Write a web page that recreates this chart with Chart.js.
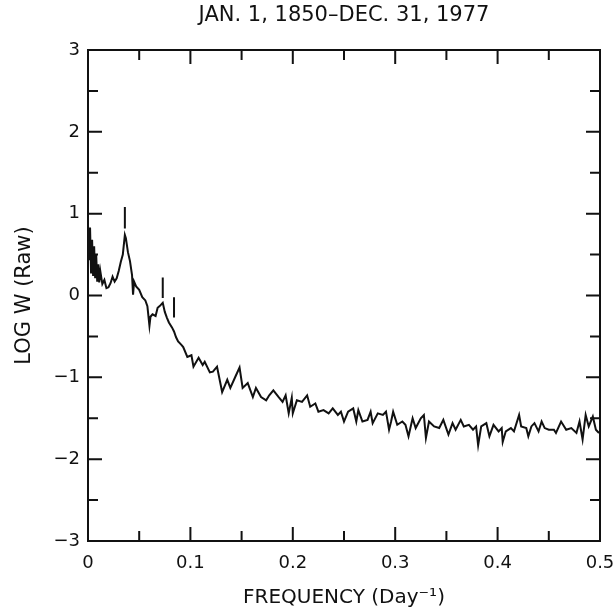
<!DOCTYPE html>
<html>
<head>
<meta charset="utf-8">
<script src="https://cdn.jsdelivr.net/npm/chart.js@4.4.1/dist/chart.umd.min.js"></script>
<style>
  html, body { margin: 0; padding: 0; background: #fff; }
  #wrap { width: 616px; height: 610px; }
</style>
</head>
<body>
<div id="wrap"><canvas id="spectrumChart" width="616" height="610"></canvas></div>
<script>
// frequency (day^-1) and log power
const freq = [0.000, 0.001, 0.002, 0.003, 0.004, 0.005, 0.006, 0.007, 0.008, 0.009,
    0.010, 0.011, 0.012, 0.014, 0.016, 0.018, 0.020, 0.022, 0.024, 0.026,
    0.028, 0.030, 0.032, 0.034, 0.036, 0.037, 0.039, 0.041, 0.043, 0.044,
    0.045, 0.047, 0.050, 0.053, 0.056, 0.058, 0.060, 0.061, 0.063, 0.066,
    0.068, 0.070, 0.073, 0.075, 0.077, 0.079, 0.082, 0.084, 0.086, 0.088,
    0.091, 0.093, 0.097, 0.101, 0.103, 0.108, 0.112, 0.114, 0.119, 0.122,
    0.126, 0.131, 0.136, 0.139, 0.144, 0.148, 0.151, 0.156, 0.161, 0.164,
    0.169, 0.174, 0.177, 0.181, 0.186, 0.190, 0.193, 0.196, 0.199, 0.200,
    0.204, 0.209, 0.214, 0.217, 0.222, 0.225, 0.230, 0.235, 0.239, 0.244,
    0.247, 0.250, 0.254, 0.259, 0.262, 0.264, 0.268, 0.273, 0.276, 0.278,
    0.283, 0.288, 0.291, 0.294, 0.296, 0.298, 0.302, 0.307, 0.310, 0.313,
    0.317, 0.320, 0.325, 0.328, 0.330, 0.333, 0.338, 0.343, 0.347, 0.352,
    0.356, 0.359, 0.364, 0.367, 0.372, 0.376, 0.379, 0.381, 0.384, 0.389,
    0.392, 0.396, 0.401, 0.404, 0.405, 0.408, 0.413, 0.416, 0.421, 0.423,
    0.428, 0.430, 0.433, 0.436, 0.440, 0.443, 0.446, 0.450, 0.455, 0.457,
    0.462, 0.467, 0.472, 0.477, 0.480, 0.483, 0.486, 0.489, 0.493, 0.496,
    0.499];
const logW = [0.86, 0.43, 0.83, 0.27, 0.68, 0.24, 0.60, 0.21, 0.50, 0.17,
    0.38, 0.16, 0.30, 0.14, 0.19, 0.09, 0.10, 0.15, 0.23, 0.17,
    0.21, 0.30, 0.41, 0.50, 0.74, 0.70, 0.53, 0.42, 0.25, 0.01,
    0.17, 0.11, 0.07, -0.02, -0.06, -0.13, -0.37, -0.26, -0.23, -0.25,
    -0.15, -0.13, -0.09, -0.20, -0.27, -0.33, -0.39, -0.44, -0.51, -0.56,
    -0.60, -0.63, -0.75, -0.73, -0.87, -0.76, -0.85, -0.81, -0.94, -0.93,
    -0.87, -1.18, -1.03, -1.13, -0.99, -0.88, -1.13, -1.07, -1.24, -1.13,
    -1.24, -1.28, -1.22, -1.16, -1.24, -1.30, -1.22, -1.44, -1.25, -1.44,
    -1.28, -1.30, -1.22, -1.36, -1.32, -1.42, -1.40, -1.44, -1.38, -1.46,
    -1.42, -1.54, -1.42, -1.38, -1.54, -1.40, -1.54, -1.52, -1.42, -1.56,
    -1.44, -1.46, -1.42, -1.64, -1.54, -1.42, -1.58, -1.54, -1.58, -1.72,
    -1.50, -1.62, -1.50, -1.46, -1.74, -1.54, -1.60, -1.62, -1.52, -1.70,
    -1.56, -1.64, -1.52, -1.60, -1.58, -1.64, -1.60, -1.83, -1.60, -1.56,
    -1.72, -1.58, -1.66, -1.62, -1.79, -1.66, -1.62, -1.66, -1.46, -1.60,
    -1.62, -1.72, -1.60, -1.56, -1.66, -1.54, -1.62, -1.64, -1.64, -1.68,
    -1.54, -1.64, -1.62, -1.68, -1.54, -1.76, -1.46, -1.60, -1.48, -1.64,
    -1.68];

// short vertical marks over the peaks
const markFreq = [0.036, 0.073, 0.084];
const markTop = [1.08, 0.22, -0.02];
const markBottom = [0.82, -0.03, -0.27];

const xTicks = [0, 0.1, 0.2, 0.3, 0.4, 0.5];
const yTicks = [-3, -2, -1, 0, 1, 2, 3];

const spectrumData = freq.map((f, i) => ({ x: f, y: logW[i] }));
const markData = [];
markFreq.forEach((f, i) => {
    markData.push({ x: f, y: markTop[i] });
    markData.push({ x: f, y: markBottom[i] });
    markData.push({ x: f, y: null });
});

const ink = '#111';
const labelFont = { family: 'DejaVu Sans', size: 18 };

// box frame plus inward major/minor ticks on all four sides
const frameTicks = {
    id: 'frameTicks',
    afterDraw(chart) {
        const ctx = chart.ctx;
        const area = chart.chartArea;
        const xs = chart.scales.x, ys = chart.scales.y;
        ctx.save();
        ctx.strokeStyle = ink;
        ctx.lineWidth = 2;
        ctx.strokeRect(area.left, area.top, area.right - area.left, area.bottom - area.top);
        for (let i = 1; i < 10; i++) {
            const px = xs.getPixelForValue(i * 0.05);
            const len = i % 2 === 0 ? 14 : 10;
            ctx.beginPath();
            ctx.moveTo(px, area.bottom); ctx.lineTo(px, area.bottom - len);
            ctx.moveTo(px, area.top); ctx.lineTo(px, area.top + len);
            ctx.stroke();
        }
        for (let i = 1; i < 12; i++) {
            const py = ys.getPixelForValue(-3 + i * 0.5);
            const len = i % 2 === 0 ? 14 : 10;
            ctx.beginPath();
            ctx.moveTo(area.left, py); ctx.lineTo(area.left + len, py);
            ctx.moveTo(area.right, py); ctx.lineTo(area.right - len, py);
            ctx.stroke();
        }
        ctx.restore();
    }
};

// keep tick labels from pushing the plot edges inwards
function fixHorizontal(h) {
    return function (scale) {
        scale.height = h;
        scale.paddingLeft = 0;
        scale.paddingRight = 0;
    };
}

const ctxSpectrum = document.getElementById('spectrumChart').getContext('2d');
const spectrumChart = new Chart(ctxSpectrum, {
    type: 'line',
    data: {
        datasets: [
            {
                label: 'LOG W',
                data: spectrumData,
                borderColor: ink,
                borderWidth: 2,
                pointRadius: 0,
                tension: 0,
                fill: false,
            },
            {
                label: 'marks',
                data: markData,
                borderColor: ink,
                borderWidth: 2,
                pointRadius: 0,
                spanGaps: false,
                fill: false,
            }
        ]
    },
    options: {
        responsive: false,
        animation: false,
        layout: { padding: { left: 0, right: 16, top: 0, bottom: 0 } },
        plugins: {
            legend: { display: false },
            tooltip: { enabled: false }
        },
        scales: {
            x: {
                type: 'linear',
                min: 0,
                max: 0.5,
                afterFit: fixHorizontal(69),
                afterBuildTicks(scale) { scale.ticks = xTicks.map(v => ({ value: v })); },
                grid: { display: false, drawTicks: false },
                border: { display: false },
                ticks: {
                    color: ink,
                    font: labelFont,
                    padding: 12,
                    maxRotation: 0,
                    callback: v => String(v)
                },
                title: {
                    display: true,
                    text: 'FREQUENCY (Day\u207B\u00B9)',
                    color: ink,
                    font: { family: 'DejaVu Sans', size: 20 },
                    padding: { top: 0, bottom: 0 }
                }
            },
            // top axis only carries the chart title, centred over the plot
            x2: {
                type: 'linear',
                position: 'top',
                min: 0,
                max: 0.5,
                afterFit: fixHorizontal(50),
                grid: { display: false, drawTicks: false },
                border: { display: false },
                ticks: { display: false },
                title: {
                    display: true,
                    text: 'JAN. 1, 1850\u2013DEC. 31, 1977',
                    color: ink,
                    font: { family: 'DejaVu Sans', size: 21 },
                    padding: { top: 3, bottom: 0 }
                }
            },
            y: {
                type: 'linear',
                min: -3,
                max: 3,
                afterFit(scale) {
                    scale.width = 88;
                    scale.paddingTop = 0;
                    scale.paddingBottom = 0;
                },
                afterBuildTicks(scale) { scale.ticks = yTicks.map(v => ({ value: v })); },
                grid: { display: false, drawTicks: false },
                border: { display: false },
                ticks: {
                    color: ink,
                    font: labelFont,
                    padding: 8,
                    callback: v => (v < 0 ? '\u2212' + Math.abs(v) : String(v))
                },
                title: {
                    display: true,
                    text: 'LOG W (Raw)',
                    color: ink,
                    font: { family: 'DejaVu Sans', size: 21 },
                    padding: { top: 12, bottom: 0 }
                }
            }
        }
    },
    plugins: [frameTicks]
});
</script>
</body>
</html>
